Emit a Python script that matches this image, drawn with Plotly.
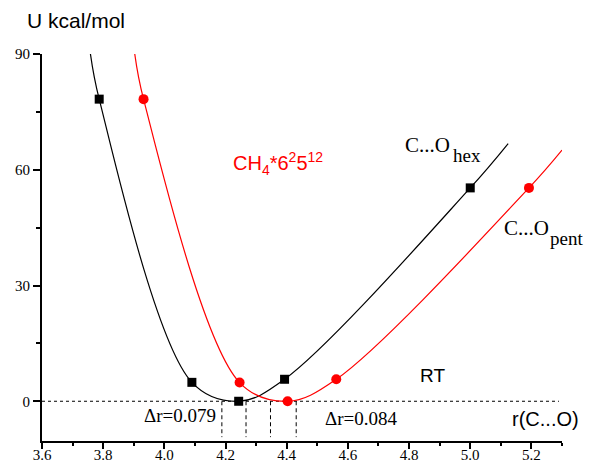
import plotly.graph_objects as go

# Interaction energy U (kcal/mol) versus C...O distance r (angstrom)
hex_r = [3.787, 4.090, 4.243, 4.393, 5.000]
hex_u = [78.3, 4.9, 0.0, 5.7, 55.3]
pent_r = [3.932, 4.246, 4.403, 4.562, 5.192]
pent_u = [78.3, 4.85, 0.0, 5.7, 55.3]

# fitted curves drawn through the points (ends continue past the data)
hex_curve_r = [3.755, 3.787, 4.090, 4.243, 4.393, 5.000, 5.124]
hex_curve_u = [92.0, 78.3, 4.9, 0.0, 5.7, 55.3, 66.8]
pent_curve_r = [3.900, 3.932, 4.246, 4.403, 4.562, 5.192, 5.300]
pent_curve_u = [92.0, 78.3, 4.85, 0.0, 5.7, 55.3, 65.1]

# RT window around each minimum
rt_level = 0.0
hex_window_start, hex_dr = 4.188, 0.079
pent_window_start, pent_dr = 4.347, 0.084

x_ticks = [3.6, 3.8, 4.0, 4.2, 4.4, 4.6, 4.8, 5.0, 5.2]
y_ticks = [0, 30, 60, 90]

W, H = 591, 466
L, R, T, B = 42, 29, 54, 25


def paper(px, py):
    return (px - L) / (W - L - R), (H - B - py) / (H - T - B)


fig = go.Figure()

# RT level line
fig.add_trace(go.Scatter(x=[3.6, 5.29], y=[rt_level, rt_level], mode="lines",
                         line=dict(color="black", width=1, dash="3px,3px"),
                         hoverinfo="skip", showlegend=False))

# window boundaries
for x0, dr in [(hex_window_start, hex_dr), (pent_window_start, pent_dr)]:
    for xv in (x0, x0 + dr):
        fig.add_trace(go.Scatter(x=[xv, xv], y=[rt_level, -9.3], mode="lines",
                                 line=dict(color="black", width=1, dash="4px,3px"),
                                 hoverinfo="skip", showlegend=False))

fig.add_trace(go.Scatter(x=hex_curve_r, y=hex_curve_u, mode="lines",
                         line=dict(color="black", width=1.2, shape="spline", smoothing=1.0),
                         showlegend=False))
fig.add_trace(go.Scatter(x=pent_curve_r, y=pent_curve_u, mode="lines",
                         line=dict(color="red", width=1.2, shape="spline", smoothing=1.0),
                         showlegend=False))
fig.add_trace(go.Scatter(x=hex_r, y=hex_u, mode="markers",
                         marker=dict(symbol="square", color="black", size=9),
                         showlegend=False))
fig.add_trace(go.Scatter(x=pent_r, y=pent_u, mode="markers",
                         marker=dict(symbol="circle", color="red", size=10),
                         showlegend=False))

serif = "Liberation Serif"
sans = "Liberation Sans"


def label(text, px, py, size, font, color="black", xanchor="center"):
    xp, yp = paper(px, py)
    fig.add_annotation(x=xp, y=yp, xref="paper", yref="paper", text=text,
                       showarrow=False, xanchor=xanchor, yanchor="middle",
                       font=dict(family=font, size=size, color=color))


label("U kcal/mol", 25, 20, 21, sans, xanchor="left")
label("r(C...O)", 545, 419, 20, sans)
label("RT", 432, 375, 19, sans)
label("CH<sub>4</sub>*6<sup>2</sup>5<sup>12</sup>", 231, 163, 20, sans, color="red", xanchor="left")
label("C...O", 403, 145, 21, serif, xanchor="left")
label("hex", 451, 155, 19, serif, xanchor="left")
label("C...O", 502, 228, 21, serif, xanchor="left")
label("pent", 548, 238, 19, serif, xanchor="left")
label(f"\u0394r={hex_dr:.3f}", 180, 415, 19, serif)
label(f"\u0394r={pent_dr:.3f}", 361, 418, 19, serif)

tick_font = dict(family=serif, size=15, color="black")
axis_common = dict(showline=True, linecolor="black", linewidth=2, ticks="outside",
                   tickcolor="black", tickwidth=2, showgrid=False, zeroline=False,
                   automargin=False)

fig.update_xaxes(range=[3.6, 5.3], tickvals=x_ticks, ticktext=[f"{v:.1f}" for v in x_ticks],
                 ticklen=6, tickfont=tick_font, ticklabelstandoff=-7,
                 minor=dict(dtick=0.1, tick0=3.6, ticks="outside", ticklen=3,
                            tickwidth=2, tickcolor="black"),
                 **axis_common)
fig.update_yaxes(range=[-10.3, 90], tickvals=y_ticks, ticklen=7, tickfont=tick_font,
                 minor=dict(dtick=15, tick0=0, ticks="outside", ticklen=4,
                            tickwidth=2, tickcolor="black"),
                 **axis_common)

fig.update_layout(width=W, height=H, margin=dict(l=L, r=R, t=T, b=B),
                  plot_bgcolor="white", paper_bgcolor="white")

fig.write_html("out.html")
